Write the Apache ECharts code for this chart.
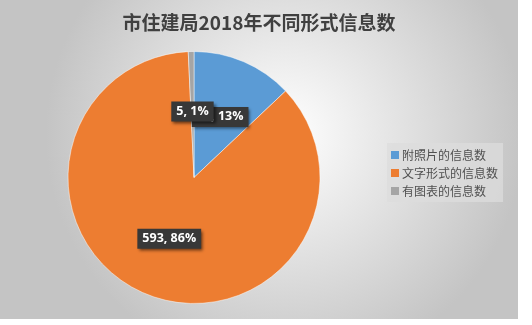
<!DOCTYPE html>
<html>
<head>
<meta charset="utf-8">
<script src="https://cdn.jsdelivr.net/npm/echarts@6/dist/echarts.min.js"></script>
<style>
  html, body { margin: 0; padding: 0; background: #ffffff; }
  #chart { width: 518px; height: 319px; }
</style>
</head>
<body>
<div id="chart"></div>
<script>
// 信息类型及数量
const categories = ['附照片的信息数', '文字形式的信息数', '有图表的信息数'];
const counts = [89, 593, 5];
const colors = ['#5B9BD5', '#ED7D31', '#A5A5A5'];
const titleText = '市住建局2018年不同形式信息数';

const chart = echarts.init(document.getElementById('chart'));

chart.setOption({
  backgroundColor: {
    type: 'radial', x: 0.55, y: 0.42, r: 0.75,
    colorStops: [
      { offset: 0, color: '#ffffff' },
      { offset: 1, color: '#c4c4c4' }
    ]
  },
  title: {
    text: titleText,
    left: 'center',
    top: 8,
    textStyle: {
      fontFamily: 'Noto Sans CJK SC',
      fontSize: 19,
      fontWeight: 'bold',
      color: '#404040'
    }
  },
  legend: {
    orient: 'vertical',
    left: 387,
    top: 143,
    padding: [6, 5, 5, 4],
    backgroundColor: 'rgba(220,220,220,0.75)',
    itemWidth: 8,
    itemHeight: 8,
    itemGap: 6,
    itemStyle: { borderWidth: 0 },
    textStyle: {
      fontFamily: 'Noto Sans CJK SC',
      fontSize: 12,
      lineHeight: 12,
      color: '#505050',
      padding: [0, 0, 0, -2]
    },
    icon: 'rect',
    data: categories
  },
  series: [{
    type: 'pie',
    center: [194, 177.5],
    radius: 126,
    startAngle: 90,
    clockwise: true,
    percentPrecision: 0,
    avoidLabelOverlap: false,
    labelLayout: { hideOverlap: false },
    animation: false,
    itemStyle: { borderColor: 'rgba(255,255,255,0.6)', borderWidth: 0.8 },
    label: {
      position: 'inside',
      formatter: '{c}, {d}%',
      fontFamily: 'Open Sans',
      fontWeight: 'bold',
      fontSize: 12.5,
      color: '#ffffff',
      backgroundColor: '#383838',
      padding: [4, 5, 3, 5],
      shadowColor: 'rgba(0,0,0,0.55)',
      shadowBlur: 3,
      shadowOffsetX: 2,
      shadowOffsetY: 2
    },
    labelLine: { show: false },
    emphasis: { disabled: true },
    data: categories.map((name, i) => ({
      name: name,
      value: counts[i],
      itemStyle: { color: colors[i] }
    }))
  }]
});
</script>
</body>
</html>
